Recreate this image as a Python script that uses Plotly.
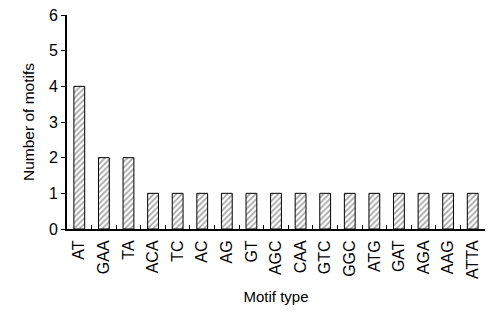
import plotly.graph_objects as go

motifs = ["AT", "GAA", "TA", "ACA", "TC", "AC", "AG", "GT", "AGC", "CAA",
          "GTC", "GGC", "ATG", "GAT", "AGA", "AAG", "ATTA"]
counts = [4, 2, 2, 1, 1, 1, 1, 1, 1, 1, 1, 1, 1, 1, 1, 1, 1]

fig = go.Figure(go.Bar(
    x=motifs, y=counts, width=0.44,
    marker=dict(color="white", line=dict(color="black", width=1),
                pattern=dict(shape="/", fgcolor="#444444", bgcolor="white",
                             size=4, solidity=0.4)),
))

fig.update_layout(
    width=503, height=312, margin=dict(l=67, r=18, t=15, b=83),
    paper_bgcolor="white", plot_bgcolor="white", showlegend=False,
    font=dict(family="Arial, Liberation Sans, sans-serif", color="black", size=15),
)
fig.update_xaxes(
    showline=True, linecolor="black", linewidth=2, tickangle=-90,
    ticks="inside", tickson="boundaries", ticklen=4, tickcolor="black",
    tickfont=dict(size=16), ticklabelstandoff=3, automargin=False,
    title=dict(text="Motif type", font=dict(size=15), standoff=14),
    range=[-0.5, len(motifs) - 0.5],
)
fig.update_yaxes(
    showline=True, linecolor="black", linewidth=2, range=[0, 6], dtick=1,
    ticks="outside", ticklen=4, tickcolor="black", showgrid=False,
    zeroline=False, tickfont=dict(size=16), automargin=False,
    title=dict(text="Number of motifs", font=dict(size=15.5), standoff=10),
)
fig.write_html("out.html")
